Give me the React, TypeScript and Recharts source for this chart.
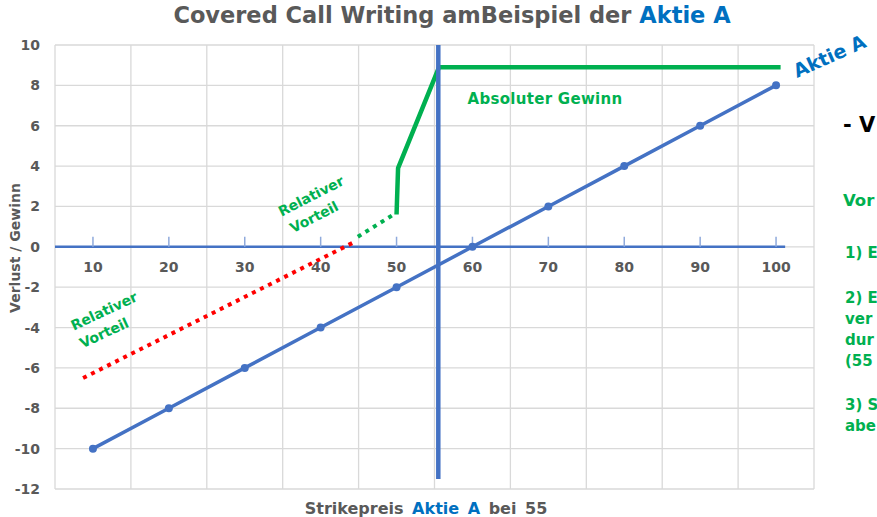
import React from 'react';
import { LineChart, Line, XAxis, YAxis, CartesianGrid, ReferenceLine } from 'recharts';

// --- Daten ---

const aktiePreis = [10, 20, 30, 40, 50, 60, 70, 80, 90, 100];
const aktieErgebnis = [-10, -8, -6, -4, -2, 0, 2, 4, 6, 8];

const strikeX = [55.5, 55.5];
const strikeY = [10, -11.5];

const gewinnX = [50, 50.2, 55.6, 100.6];
const gewinnY = [1.6, 3.9, 8.9, 8.9];

const vorteilGruenX = [44.9, 49.6];
const vorteilGruenY = [0.5, 1.6];

const vorteilRotX = [8.7, 44.5];
const vorteilRotY = [-6.5, 0.25];

const achseX = [5, 101.2];
const xTicks = [10, 20, 30, 40, 50, 60, 70, 80, 90, 100];
const gridX = [5, 15, 25, 35, 45, 55, 65, 75, 85, 95, 105];
const yTicks = [-12, -10, -8, -6, -4, -2, 0, 2, 4, 6, 8, 10];

// rechter Textblock (im Original am Bildrand abgeschnitten)
const seitenText = ['1) E', '2) E', 'ver', 'dur', '(55', '3) S', 'abe'];
const seitenTextY = [253, 298, 319, 340, 361, 405, 426];

const BLUE = '#4472C4';
const TICK_BLUE = '#8FAADC';
const GREEN = '#00B050';
const RED = '#FF0000';
const GRAY = '#595959';
const TITLE_BLUE = '#0070C0';
const FONT = '"DejaVu Sans", sans-serif';

const toPoints = (xs: number[], ys: number[]) => xs.map((x, i) => ({ x, y: ys[i] }));

const aktieData = toPoints(aktiePreis, aktieErgebnis);
const strikeData = toPoints(strikeX, strikeY);
const gewinnData = toPoints(gewinnX, gewinnY);
const gruenData = toPoints(vorteilGruenX, vorteilGruenY);
const rotData = toPoints(vorteilRotX, vorteilRotY);

const labelStyle = { fill: GRAY, fontSize: 14, fontWeight: 700, fontFamily: FONT };

export default function App() {
    return (
        <div style={{ position: 'absolute', left: 0, top: 0, width: 877, height: 517, overflow: 'hidden', background: '#fff' }}>
            <LineChart width={877} height={517} margin={{ top: 45, right: 63, bottom: 28, left: 0 }}>
                <XAxis type="number" dataKey="x" domain={[5, 105]} ticks={xTicks} allowDataOverflow hide />
                <XAxis xAxisId="grid" type="number" dataKey="x" domain={[5, 105]} ticks={gridX} allowDataOverflow hide />
                <YAxis
                    type="number"
                    domain={[-12, 10]}
                    ticks={yTicks}
                    interval={0}
                    axisLine={false}
                    tickLine={false}
                    tickMargin={9}
                    width={55}
                    tick={labelStyle}
                />
                <CartesianGrid xAxisId="grid" stroke="#D9D9D9" strokeWidth={1.3} />

                <ReferenceLine
                    segment={[{ x: achseX[0], y: 0 }, { x: achseX[1], y: 0 }]}
                    stroke={BLUE}
                    strokeWidth={2.5}
                />
                {xTicks.map((v) => (
                    <ReferenceLine
                        key={`tick-${v}`}
                        segment={[{ x: v, y: 0 }, { x: v, y: 0.5 }]}
                        stroke={TICK_BLUE}
                        strokeWidth={1.5}
                        label={{ value: String(v), position: 'bottom', offset: 15, ...labelStyle }}
                    />
                ))}

                <Line data={rotData} dataKey="y" type="linear" stroke={RED} strokeWidth={4} strokeDasharray="4 5" dot={false} isAnimationActive={false} />
                <Line data={gruenData} dataKey="y" type="linear" stroke={GREEN} strokeWidth={4} strokeDasharray="4 5" dot={false} isAnimationActive={false} />
                <Line data={aktieData} dataKey="y" type="linear" stroke={BLUE} strokeWidth={3.5}
                    dot={{ r: 4, fill: BLUE, stroke: BLUE, strokeWidth: 0 }} isAnimationActive={false} />
                <Line data={gewinnData} dataKey="y" type="linear" stroke={GREEN} strokeWidth={4.5} strokeLinejoin="round" dot={false} isAnimationActive={false} />
                <Line data={strikeData} dataKey="y" type="linear" stroke={BLUE} strokeWidth={4.5} dot={false} isAnimationActive={false} />
            </LineChart>

            <svg width={877} height={517} style={{ position: 'absolute', left: 0, top: 0, pointerEvents: 'none' }} fontFamily={FONT} fontWeight={700}>
                <text x={452} y={23} textAnchor="middle" fontSize={22.5} fill={GRAY}>
                    Covered Call Writing amBeispiel der <tspan fill={TITLE_BLUE}>Aktie A</tspan>
                </text>
                <text x={426} y={514} textAnchor="middle" fontSize={16} fill={GRAY} wordSpacing={3}>
                    Strikepreis <tspan fill={TITLE_BLUE}>Aktie A</tspan> bei 55
                </text>
                <text transform="translate(15,248) rotate(-90)" textAnchor="middle" dominantBaseline="central" fontSize={14} fill={GRAY}>
                    Verlust / Gewinn
                </text>

                <text x={545} y={99} textAnchor="middle" dominantBaseline="central" fontSize={15} fill={GREEN} letterSpacing={0.3}>
                    Absoluter Gewinn
                </text>
                <g fontSize={14} fill={GREEN} textAnchor="middle" dominantBaseline="central">
                    <text transform="translate(311,196) rotate(-27)">Relativer</text>
                    <text transform="translate(314,217) rotate(-27)">Vorteil</text>
                    <text transform="translate(104,311) rotate(-25)">Relativer</text>
                    <text transform="translate(104,333) rotate(-25)">Vorteil</text>
                </g>

                <text transform="translate(797,78) rotate(-24)" fontSize={19} fill={TITLE_BLUE}>Aktie A</text>

                <text x={843} y={125} dominantBaseline="central" fontSize={21} fill="#000">- V</text>
                <text x={843} y={200} dominantBaseline="central" fontSize={16.5} fill={GREEN}>Vor</text>
                <g fill={GREEN} dominantBaseline="central" fontSize={15}>
                    {seitenText.map((t, i) => (
                        <text key={t} x={845} y={seitenTextY[i]}>{t}</text>
                    ))}
                </g>
            </svg>
        </div>
    );
}
